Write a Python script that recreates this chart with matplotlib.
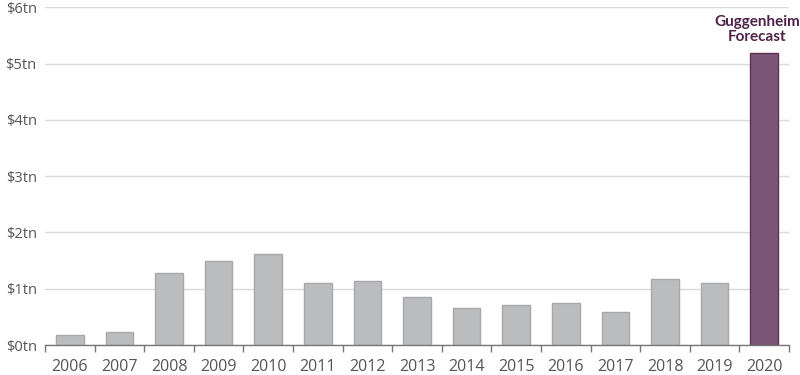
import matplotlib
matplotlib.use("Agg")
import matplotlib.pyplot as plt
import numpy as np

years = ["2006", "2007", "2008", "2009", "2010", "2011", "2012", "2013",
         "2014", "2015", "2016", "2017", "2018", "2019", "2020"]
values = [0.18, 0.23, 1.28, 1.50, 1.61, 1.10, 1.14, 0.85,
          0.66, 0.71, 0.75, 0.59, 1.17, 1.10, 5.19]
y_ticks = [0, 1, 2, 3, 4, 5, 6]
y_labels = ["$0tn", "$1tn", "$2tn", "$3tn", "$4tn", "$5tn", "$6tn"]
annotation = "Guggenheim\nForecast"

plt.rcParams['font.family'] = ['Open Sans', 'DejaVu Sans']

fig = plt.figure(figsize=(8, 3.75), dpi=100)
ax = fig.add_axes([45/800, 1-345/375, (789-45)/800, (345-7.3)/375])

x = np.arange(len(years))
colors = ['#bbbcbe'] * (len(years) - 1) + ['#7b5677']
edges = ['#a8a8aa'] * (len(years) - 1) + ['#5e3158']
ax.bar(x, values, width=0.56, color=colors, edgecolor=edges, linewidth=1.0, zorder=3)

ax.set_xlim(-0.5, len(years) - 0.5)
ax.set_ylim(0, 6)
ax.set_yticks(y_ticks)
ax.set_yticklabels(y_labels)
ax.yaxis.grid(True, color='#d9d9d9', linewidth=1.0, zorder=0)
ax.tick_params(axis='y', length=0, pad=6, labelsize=10.5, labelcolor='#555555')

ax.set_xticks(x)
ax.set_xticklabels(years)
ax.tick_params(axis='x', which='major', length=0, pad=10, labelsize=11.5, labelcolor='#555555')
ax.set_xticks(np.arange(-0.5, len(years), 1.0), minor=True)
ax.tick_params(axis='x', which='minor', length=5, width=1, color='#777777', direction='out')

for s in ['top', 'right', 'left']:
    ax.spines[s].set_visible(False)
ax.spines['bottom'].set_color('#777777')
ax.spines['bottom'].set_linewidth(1.0)
ax.spines['bottom'].set_zorder(4)

ax.text(x[-1] - 0.15, values[-1] + 0.15, annotation, ha='center', va='bottom',
        fontsize=11, fontweight='bold', color='#4f2048', linespacing=1.1,
        family=['Lato', 'DejaVu Sans'])

fig.savefig("out.png", dpi=100)
